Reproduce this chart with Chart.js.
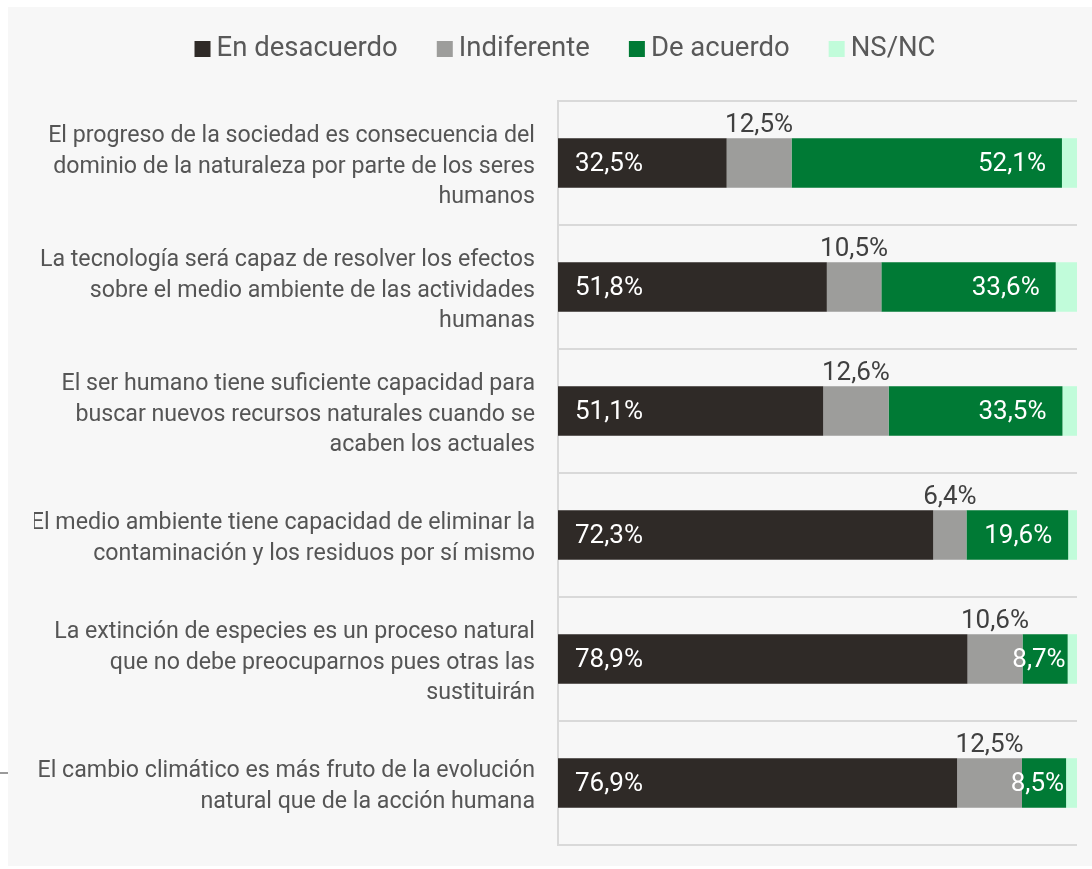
<!DOCTYPE html>
<html>
<head>
<meta charset="utf-8">
<script src="https://cdn.jsdelivr.net/npm/chart.js@4"></script>
<style>
  html, body { margin: 0; padding: 0; background: #ffffff; }
  #wrap { position: absolute; left: 8px; top: 7px; width: 1084px; height: 859px; background: #f7f7f7; }
  #mark { position: absolute; left: 0; top: 772px; width: 8px; height: 2px; background: #9a9a9a; }
  canvas { display: block; }
</style>
</head>
<body>
<div id="mark"></div>
<div id="wrap"><canvas id="c" width="1084" height="859"></canvas></div>
<script>
// ---- data ----
const categories = [
  ["El progreso de la sociedad es consecuencia del", "dominio de la naturaleza por parte de los seres", "humanos"],
  ["La tecnología será capaz de resolver los efectos", "sobre el medio ambiente de las actividades", "humanas"],
  ["El ser humano tiene suficiente capacidad para", "buscar nuevos recursos naturales cuando se", "acaben los actuales"],
  ["El medio ambiente tiene capacidad de eliminar la", "contaminación y los residuos por sí mismo"],
  ["La extinción de especies es un proceso natural", "que no debe preocuparnos pues otras las", "sustituirán"],
  ["El cambio climático es más fruto de la evolución", "natural que de la acción humana"]
];
const seriesNames = ["En desacuerdo", "Indiferente", "De acuerdo", "NS/NC"];
const enDesacuerdo = [32.5, 51.8, 51.1, 72.3, 78.9, 76.9];
const indiferente  = [12.5, 10.5, 12.6, 6.4, 10.6, 12.5];
const deAcuerdo    = [52.1, 33.6, 33.5, 19.6, 8.7, 8.5];
const nsnc         = [2.9, 4.1, 2.8, 1.7, 1.8, 2.1];
const seriesColors = ["#2f2a27", "#9d9d9b", "#007a35", "#c1fcda"];

const FONT = "Roboto";
const fmt = v => v.toFixed(1).replace('.', ',') + '%';

const labelPlugin = {
  id: 'segLabels',
  afterDatasetsDraw(chart) {
    const ctx = chart.ctx;
    ctx.save();
    ctx.font = `26px ${FONT}`;
    // dark series: inside start
    chart.getDatasetMeta(0).data.forEach((bar, i) => {
      const v = chart.data.datasets[0].data[i];
      ctx.fillStyle = '#ffffff';
      ctx.textAlign = 'left';
      ctx.textBaseline = 'middle';
      ctx.fillText(fmt(v), bar.base + 17, bar.y + 1);
    });
    // gray series: above bar, centred
    chart.getDatasetMeta(1).data.forEach((bar, i) => {
      const v = chart.data.datasets[1].data[i];
      ctx.fillStyle = '#404040';
      ctx.textAlign = 'center';
      ctx.textBaseline = 'alphabetic';
      ctx.fillText(fmt(v), (bar.x + bar.base) / 2, bar.y - bar.height / 2 - 6);
    });
    // green series: inside end
    chart.getDatasetMeta(2).data.forEach((bar, i) => {
      const v = chart.data.datasets[2].data[i];
      const t = fmt(v);
      const w = ctx.measureText(t).width;
      const segW = bar.x - bar.base;
      ctx.fillStyle = '#ffffff';
      ctx.textAlign = 'right';
      ctx.textBaseline = 'middle';
      const x = (w + 30 > segW) ? bar.x - 2 : bar.x - 16;
      ctx.fillText(t, x, bar.y + 1);
    });
    ctx.restore();
  }
};

const legendPlugin = {
  id: 'topLegend',
  afterDraw(chart) {
    const ctx = chart.ctx;
    ctx.save();
    ctx.font = `27.5px ${FONT}`;
    const box = 16, gapBox = 6, gapItem = 39;
    const ds = chart.data.datasets;
    const widths = ds.map(d => box + gapBox + ctx.measureText(d.label).width);
    const total = widths.reduce((a, b) => a + b, 0) + gapItem * (ds.length - 1);
    let x = 557 - total / 2;
    const cy = 42;
    ds.forEach((d, i) => {
      ctx.fillStyle = d.backgroundColor;
      ctx.fillRect(x, cy - box / 2, box, box);
      ctx.fillStyle = '#595959';
      ctx.textAlign = 'left';
      ctx.textBaseline = 'middle';
      ctx.fillText(d.label, x + box + gapBox, cy);
      x += widths[i] + gapItem;
    });
    ctx.restore();
  }
};

const seriesData = [enDesacuerdo, indiferente, deAcuerdo, nsnc];

new Chart(document.getElementById('c'), {
  type: 'bar',
  data: {
    labels: categories,
    datasets: seriesNames.map((name, k) => ({
      label: name,
      data: seriesData[k],
      backgroundColor: seriesColors[k],
      borderWidth: 0,
      categoryPercentage: 1,
      barPercentage: 0.4
    }))
  },
  options: {
    indexAxis: 'y',
    responsive: false,
    animation: false,
    layout: { padding: { top: 94, left: 26, right: 15, bottom: 21 } },
    plugins: { legend: { display: false }, tooltip: { enabled: false } },
    scales: {
      x: { stacked: true, min: 0, max: 100, display: false },
      y: {
        stacked: true,
        afterFit(scale) { scale.width = 524; scale.paddingTop = 0; scale.paddingBottom = 0; },
        grid: { color: '#d9d9d9', lineWidth: 2, drawTicks: false, offset: true },
        border: { display: true, color: '#d9d9d9', width: 2 },
        ticks: { color: '#555555', padding: 23, labelOffset: 4, font: { family: FONT, size: 23.2, lineHeight: 1.32 } }
      }
    }
  },
  plugins: [labelPlugin, legendPlugin]
});
</script>
</body>
</html>
